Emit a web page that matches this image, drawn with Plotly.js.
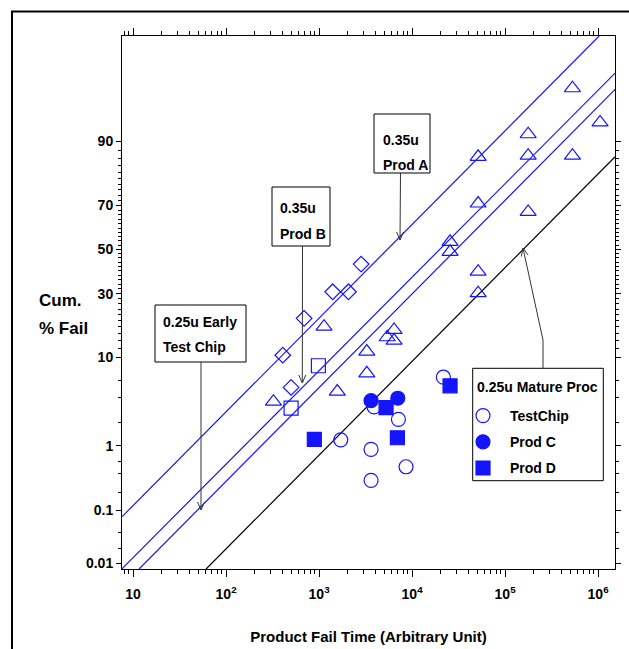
<!DOCTYPE html>
<html>
<head>
<meta charset="utf-8">
<script src="https://cdn.plot.ly/plotly-3.0.1.min.js"></script>
<style>html,body{margin:0;padding:0;background:#fff;}</style>
</head>
<body>
<div id="chart" style="width:629px;height:649px;"></div>
<script>
// ---------- data (fail time in arbitrary units, cumulative % fail) ----------
// 0.35u Prod A (open triangles)
const triTime = [5.3e5, 1.05e6, 1.77e5, 5.13e4, 1.77e5, 5.3e5, 5.13e4, 1.77e5, 2.56e4, 2.56e4, 5.13e4, 5.13e4, 1130, 6400, 5400, 6400, 3260, 3260, 1570, 323];
const triPct  = [97.2, 93.4, 91.4, 86.4, 86.7, 86.7, 70.7, 67.2, 53.6, 48.9, 39.6, 30.2, 18.0, 17.0, 14.9, 14.0, 11.3, 7.1, 4.6, 3.56];
// 0.25u Early Test Chip (open diamonds)
const diaTime = [2830, 1400, 2070, 690, 407, 500];
const diaPct  = [43.1, 30.8, 30.8, 20.7, 10.5, 5.1];
// 0.35u Prod B (open squares)
const sqTime = [983, 500];
const sqPct  = [8.4, 3.0];
// 0.25u Mature Proc: TestChip, Prod C, Prod D
const tcTime = [3900, 7130, 1710, 3620, 3620, 8610, 2.17e4];
const tcPct  = [3.1, 2.2, 1.2, 0.89, 0.31, 0.50, 6.5];
const pcTime = [3620, 7020];
const pcPct  = [3.65, 3.89];
const pdTime = [889, 5250, 6950, 2.56e4];
const pdPct  = [1.22, 3.04, 1.28, 5.3];
// fitted lognormal lines (end points)
const fitATime = [7.62, 1.026e6];     const fitAPct = [0.077, 99.43];
const fitBTime = [7.55, 1.524e6];     const fitBPct = [0.0076, 98.17];
const fitEarlyTime = [11.6, 1.524e6]; const fitEarlyPct = [0.0076, 97.11];
const fitMatTime = [61.0, 1.524e6];   const fitMatPct = [0.0076, 86.4];

// ---------- axes ----------
const xRange = [7.6, 1.52e6];
const xMajor = [10, 100, 1000, 1e4, 1e5, 1e6];
const xMajorText = ["10", "10<sup>2</sup>", "10<sup>3</sup>", "10<sup>4</sup>", "10<sup>5</sup>", "10<sup>6</sup>"];
const xMinor = [8, 9, 20, 30, 40, 50, 60, 70, 80, 90, 200, 300, 400, 500, 600, 700, 800, 900,
                2000, 3000, 4000, 5000, 6000, 7000, 8000, 9000, 2e4, 3e4, 4e4, 5e4, 6e4, 7e4, 8e4, 9e4,
                2e5, 3e5, 4e5, 5e5, 6e5, 7e5, 8e5, 9e5];
const yRangePct = [0.0076, 99.43];
const yTickPct = [0.01, 0.1, 1, 10, 30, 50, 70, 90];
const yTickText = ["0.01", "0.1", "1", "10", "30", "50", "70", "90"];
const yMinorPct = [0.02, 0.04, 0.2, 0.4, 0.6, 2, 4, 6, 12, 14, 16, 18, 20, 22, 24, 26, 28, 32, 34, 36, 38, 40, 42, 44, 46, 48,
                   52, 54, 56, 58, 60, 62, 64, 66, 68, 72, 74, 76, 78, 80, 82, 84, 86, 88];

// inverse standard normal CDF (lognormal probability scale)
function probit(p) {
  const a = [-3.969683028665376e+01, 2.209460984245205e+02, -2.759285104469687e+02, 1.383577518672690e+02, -3.066479806614716e+01, 2.506628277459239e+00];
  const b = [-5.447609879822406e+01, 1.615858368580409e+02, -1.556989798598866e+02, 6.680131188771972e+01, -1.328068155833027e+01];
  const c = [-7.784894002430293e-03, -3.223964580411365e-01, -2.400758277161838e+00, -2.549732539343734e+00, 4.374664141464968e+00, 2.938163982698783e+00];
  const d = [7.784695709041462e-03, 3.224671290700398e-01, 2.445134137142996e+00, 3.754408661907416e+00];
  const pl = 0.02425, ph = 1 - pl;
  let q, r;
  if (p < pl) {
    q = Math.sqrt(-2 * Math.log(p));
    return (((((c[0]*q + c[1])*q + c[2])*q + c[3])*q + c[4])*q + c[5]) / ((((d[0]*q + d[1])*q + d[2])*q + d[3])*q + 1);
  } else if (p <= ph) {
    q = p - 0.5; r = q*q;
    return (((((a[0]*r + a[1])*r + a[2])*r + a[3])*r + a[4])*r + a[5])*q / (((((b[0]*r + b[1])*r + b[2])*r + b[3])*r + b[4])*r + 1);
  } else {
    q = Math.sqrt(-2 * Math.log(1 - p));
    return -(((((c[0]*q + c[1])*q + c[2])*q + c[3])*q + c[4])*q + c[5]) / ((((d[0]*q + d[1])*q + d[2])*q + d[3])*q + 1);
  }
}
const Z = arr => arr.map(v => probit(v / 100));

// ---------- styling ----------
const F = "Liberation Sans, Arial, Helvetica, sans-serif";
const BLUE = "#1414ff";
const M = {l: 122, r: 14, t: 36, b: 80};
const W = 629, H = 649;
const PW = W - M.l - M.r, PH = H - M.t - M.b;
const px = x => (x - M.l) / PW;
const py = y => (H - M.b - y) / PH;

function lineTrace(t, p, color) {
  return {x: t, y: Z(p), type: 'scatter', mode: 'lines', line: {color: color, width: 1.2}, showlegend: false, hoverinfo: 'skip'};
}
function markTrace(t, p, name, symbol, size, show, group) {
  return {x: t, y: Z(p), type: 'scatter', mode: 'markers', name: name, showlegend: show, legendgroup: group,
    marker: {symbol: symbol, size: size, color: BLUE, line: {color: BLUE, width: 1.2}}, hovertemplate: '%{x}<extra>' + name + '</extra>'};
}

const traces = [
  lineTrace(fitATime, fitAPct, BLUE),
  lineTrace(fitBTime, fitBPct, BLUE),
  lineTrace(fitEarlyTime, fitEarlyPct, BLUE),
  lineTrace(fitMatTime, fitMatPct, '#000000'),
  markTrace(triTime, triPct, '0.35u Prod A', 'triangle-up-open', 14, false, 'a'),
  markTrace(diaTime, diaPct, '0.25u Early Test Chip', 'diamond-open', 12, false, 'b'),
  markTrace(sqTime, sqPct, '0.35u Prod B', 'square-open', 14, false, 'c'),
  markTrace(tcTime, tcPct, 'TestChip', 'circle-open', 14, true, 'g1'),
  markTrace(pcTime, pcPct, 'Prod C', 'circle', 14, true, 'g2'),
  markTrace(pdTime, pdPct, 'Prod D', 'square', 14, true, 'g3')
];

const boldFont = (size) => ({family: F, size: size, color: '#000', weight: 'bold'});
function txt(x, y, s, size) {
  return {xref: 'paper', yref: 'paper', x: px(x), y: py(y), xanchor: 'left', yanchor: 'middle', text: s, showarrow: false, font: boldFont(size || 14)};
}
function seg(x0, y0, x1, y1) {
  return {type: 'line', xref: 'paper', yref: 'paper', x0: px(x0), y0: py(y0), x1: px(x1), y1: py(y1), line: {color: '#333333', width: 1}, layer: 'above'};
}
// arrow = shaft + open V head (pixel geometry converted to paper coords)
function arrowShapes(tipX, tipY, tailX, tailY) {
  const dx = tailX - tipX, dy = tailY - tipY, L = Math.hypot(dx, dy);
  const ux = dx / L, uy = dy / L, len = 8, hw = 3.5;
  const bx = tipX + ux * len, by = tipY + uy * len;
  return [
    seg(tailX, tailY, tipX, tipY),
    seg(tipX, tipY, bx - uy * hw, by + ux * hw),
    seg(tipX, tipY, bx + uy * hw, by - ux * hw)
  ];
}
function box(x0, y0, x1, y1) {
  return {type: 'rect', xref: 'paper', yref: 'paper', x0: px(x0), x1: px(x1), y0: py(y1), y1: py(y0), line: {color: '#000', width: 1}, fillcolor: 'rgba(0,0,0,0)', layer: 'above'};
}

const annotations = [
  txt(37, 300, 'Cum.', 17),
  txt(37, 328, '% Fail', 17),
  txt(381, 140, '0.35u'), txt(381, 165, 'Prod A'),
  txt(278, 208, '0.35u'), txt(278, 234, 'Prod B'),
  txt(161, 322, '0.25u Early'), txt(161, 347, 'Test Chip'),
  txt(475, 387, '0.25u Mature Proc')
];

const shapes = [
  box(374, 114, 430, 173),
  box(272, 187, 330, 246),
  box(155, 305, 246, 362),
  box(472.7, 368.3, 603.3, 480.7),
  ...arrowShapes(400, 240, 400.5, 173),
  ...arrowShapes(302.3, 383, 302.5, 246),
  ...arrowShapes(201, 510, 201, 362),
  ...arrowShapes(523, 248, 543, 340),
  seg(543, 368.3, 543, 340),
  {type: 'rect', xref: 'paper', yref: 'paper', x0: px(12), x1: px(680), y0: py(700), y1: py(11.5), line: {color: '#000', width: 2}, fillcolor: 'rgba(0,0,0,0)'}
];

const layout = {
  width: W, height: H, margin: M, paper_bgcolor: '#fff', plot_bgcolor: '#fff',
  font: {family: F, size: 14, color: '#000'},
  showlegend: true,
  legend: {x: px(456), xanchor: 'left', y: py(400), yanchor: 'top', bgcolor: 'rgba(0,0,0,0)', borderwidth: 0,
    traceorder: 'grouped', tracegroupgap: 5, itemwidth: 44, font: boldFont(14)},
  xaxis: {type: 'log', range: xRange.map(Math.log10), tickmode: 'array', tickvals: xMajor, ticktext: xMajorText,
    ticks: 'outside', ticklen: 7, tickwidth: 1, tickcolor: '#000', showline: true, linecolor: '#000', linewidth: 1,
    mirror: 'ticks', showgrid: false, zeroline: false, tickfont: boldFont(14), ticklabelstandoff: 5,
    minor: {tickmode: 'array', tickvals: xMinor, ticks: 'outside', ticklen: 4, tickcolor: '#000', showgrid: false},
    title: {text: 'Product Fail Time (Arbitrary Unit)', font: boldFont(15), standoff: 30}},
  yaxis: {type: 'linear', range: Z(yRangePct), tickmode: 'array', tickvals: Z(yTickPct), ticktext: yTickText,
    ticks: 'outside', ticklen: 5, tickwidth: 1, tickcolor: '#000', showline: true, linecolor: '#000', linewidth: 1,
    mirror: 'ticks', showgrid: false, zeroline: false, tickfont: boldFont(14),
    minor: {tickmode: 'array', tickvals: Z(yMinorPct), ticks: 'outside', ticklen: 3, tickcolor: '#000', showgrid: false}},
  annotations: annotations,
  shapes: shapes
};

Plotly.newPlot('chart', traces, layout, {displayModeBar: false, staticPlot: true});
</script>
</body>
</html>
